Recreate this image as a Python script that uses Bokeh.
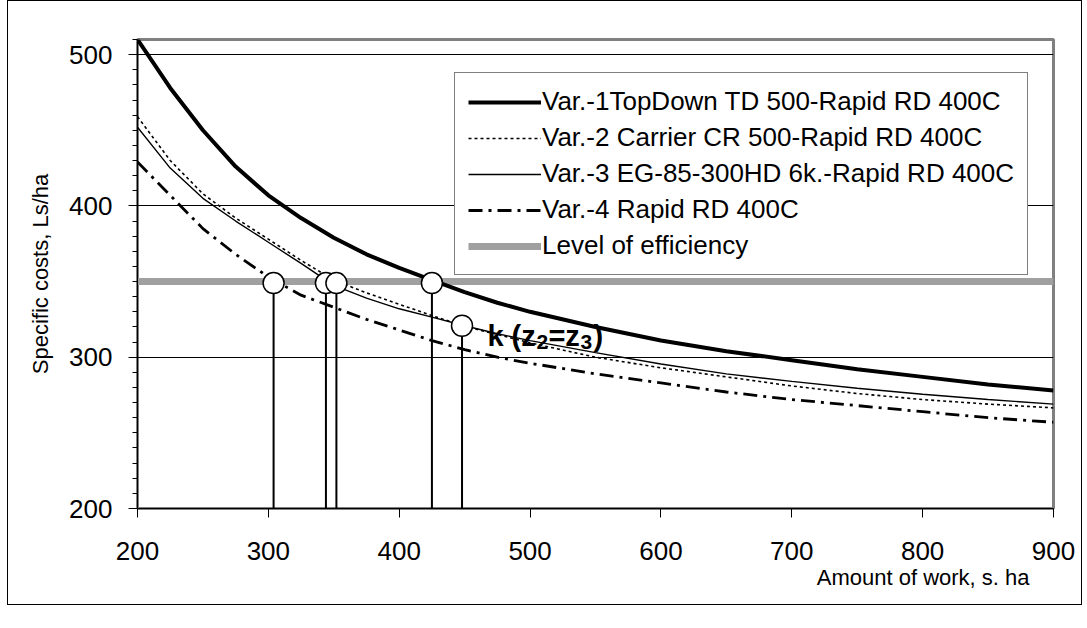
from bokeh.plotting import figure
from bokeh.models import FixedTicker, Label, Legend, LegendItem, Range1d, Title
from bokeh.embed import file_html
from bokeh.resources import INLINE

# ---- data ----
xs = [200, 225, 250, 275, 300, 325, 350, 375, 400, 425, 450, 475, 500,
      550, 600, 650, 700, 750, 800, 850, 900]
var1 = [510, 478, 450, 426, 407, 392, 379, 368, 359, 351, 343, 336, 330,
        320, 311, 304, 298, 292, 287, 282, 278]
var2 = [459, 430, 408, 392, 378, 364, 351, 342.5, 335, 327.5, 320.5, 315, 309.5,
        300, 293, 287, 281, 276, 272, 269, 266.5]
var3 = [452, 425, 405, 390, 376, 362, 347.5, 339, 332, 326.5, 320.8, 315.5, 311,
        303, 295.5, 289, 284, 279.5, 275.5, 272, 269]
var4 = [429, 407, 385, 368, 353, 341, 333, 325, 318, 311, 305, 300, 296,
        289, 283, 277, 272, 268, 264, 260, 257]
level_x = [200, 900]
level_y = [350, 350]
marker_x = [304, 344, 352, 425, 448]
marker_y = [349, 349, 349, 349, 320.8]
names = ["Var.-1TopDown TD 500-Rapid RD 400C",
         "Var.-2 Carrier CR 500-Rapid RD 400C",
         "Var.-3 EG-85-300HD 6k.-Rapid RD 400C",
         "Var.-4 Rapid RD 400C",
         "Level of efficiency"]
x_ticks = [200, 300, 400, 500, 600, 700, 800, 900]
y_ticks = [200, 300, 400, 500]
y_minor = list(range(200, 511, 10))
x_title = "Amount of work, s. ha"
y_title = "Specific costs, Ls/ha"

FONT = "Liberation Sans"

p = figure(width=1075, height=605, x_range=Range1d(200, 900), y_range=Range1d(200, 510),
           output_backend="svg", toolbar_location=None,
           min_border_left=129, min_border_right=30, min_border_top=38, min_border_bottom=98)
p.styles = {"border": "1px solid black", "transform": "translate(7px, 0px)"}
p.background_fill_color = "white"
p.border_fill_color = "white"
p.outline_line_color = "#808080"
p.outline_line_width = 3

p.xgrid.visible = False
p.ygrid.grid_line_color = "black"
p.ygrid.grid_line_width = 1

xa = p.xaxis[0]
xa.ticker = FixedTicker(ticks=x_ticks, minor_ticks=[])
xa.major_tick_out = 9
xa.major_tick_in = 0
xa.minor_tick_out = 0
xa.minor_tick_in = 0
xa.major_label_standoff = 24
xa.major_label_text_font = FONT
xa.major_label_text_font_size = "26px"
xa.major_label_text_color = "black"
xa.axis_line_color = "black"

ya = p.yaxis[0]
ya.ticker = FixedTicker(ticks=y_ticks, minor_ticks=y_minor)
ya.major_tick_out = 9
ya.major_tick_in = 0
ya.minor_tick_out = 5
ya.minor_tick_in = 0
ya.major_label_standoff = 16
ya.major_label_text_font = FONT
ya.major_label_text_font_size = "26px"
ya.major_label_text_color = "black"
ya.axis_line_color = "black"
ya.axis_label = y_title
ya.axis_label_text_font = FONT
ya.axis_label_text_font_size = "22px"
ya.axis_label_text_font_style = "normal"
ya.axis_label_text_color = "black"
ya.axis_label_standoff = 13

r_level = p.line(level_x, level_y, line_color="#a0a0a0", line_width=7)
r1 = p.line(xs, var1, line_color="black", line_width=4)
r2 = p.line(xs, var2, line_color="black", line_width=1.6, line_dash="3 3")
r3 = p.line(xs, var3, line_color="black", line_width=1.4)
r4 = p.line(xs, var4, line_color="black", line_width=2.8, line_dash="14 6 3 6")

p.segment(x0=marker_x, y0=[p.y_range.start] * len(marker_x), x1=marker_x, y1=marker_y,
          line_color="black", line_width=2)
p.scatter(marker_x, marker_y, size=21, fill_color="white", line_color="black", line_width=1.5)

legend = Legend(items=[LegendItem(label=names[0], renderers=[r1]),
                       LegendItem(label=names[1], renderers=[r2]),
                       LegendItem(label=names[2], renderers=[r3]),
                       LegendItem(label=names[3], renderers=[r4]),
                       LegendItem(label=names[4], renderers=[r_level])],
                location=(317, 233))
legend.label_text_font = FONT
legend.label_text_font_size = "26px"
legend.label_text_color = "black"
legend.glyph_width = 73
legend.glyph_height = 30
legend.label_height = 30
legend.spacing = 5
legend.padding = 13
legend.margin = 0
legend.label_standoff = 1
legend.border_line_color = "black"
legend.border_line_width = 1
legend.background_fill_alpha = 1
p.add_layout(legend)

xt = Title(text=x_title, align="right", offset=24, standoff=0,
           text_font=FONT, text_font_size="22px", text_font_style="normal", text_color="black")
p.add_layout(xt, "below")

kx, ky = 467.4, 313.9
pieces = [("k (z", 0, 0, "29px"), ("2", 49, -6, "21px"), ("=z", 61, 0, "29px"),
          ("3", 93, -6, "21px"), (")", 106, 0, "29px")]
for t, dx, dy, fs in pieces:
    p.add_layout(Label(x=kx, y=ky, text=t, x_offset=dx, y_offset=dy, text_align="left",
                       text_baseline="alphabetic", text_font=FONT, text_font_size=fs,
                       text_font_style="bold", text_color="black"))

open("out.html", "w").write(file_html(p, INLINE))
